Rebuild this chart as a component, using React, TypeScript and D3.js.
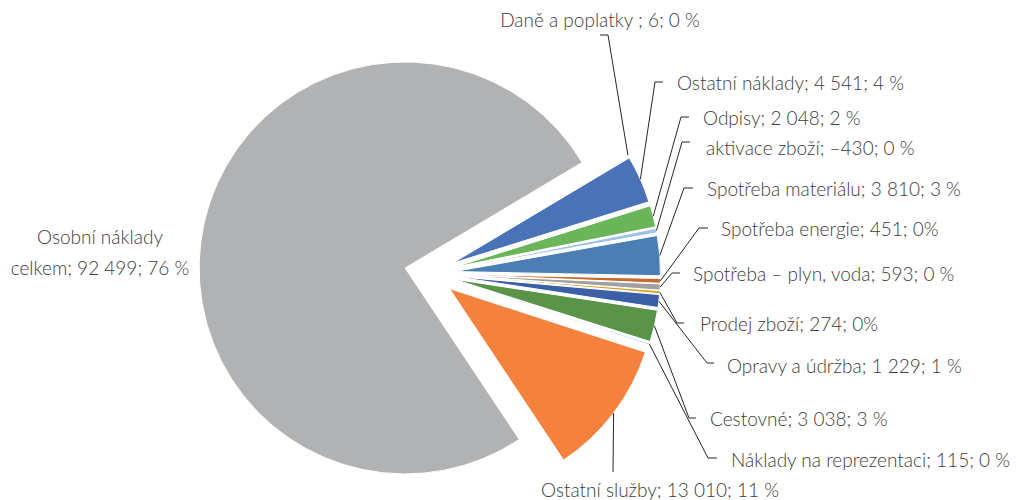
import React, { useEffect, useRef } from "react";
import * as d3 from "d3";

// ---- data ----
const categories = [
  "Daně a poplatky ",
  "Ostatní náklady",
  "Odpisy",
  "aktivace zboží",
  "Spotřeba materiálu",
  "Spotřeba energie",
  "Spotřeba – plyn, voda",
  "Prodej zboží",
  "Opravy a údržba",
  "Cestovné",
  "Náklady na reprezentaci",
  "Ostatní služby",
  "Osobní náklady celkem",
];
const values = [6, 4541, 2048, -430, 3810, 451, 593, 274, 1229, 3038, 115, 13010, 92499];
const valueLabels = ["6", "4 541", "2 048", "–430", "3 810", "451", "593", "274", "1 229", "3 038", "115", "13 010", "92 499"];
const percentLabels = ["0 %", "4 %", "2 %", "0 %", "3 %", "0%", "0 %", "0%", "1 %", "3 %", "0 %", "11 %", "76 %"];
const colors = [
  "#7f7f7f", "#4a72b8", "#6ab45a", "#9dc3e6", "#4a7eb5", "#c8692e",
  "#a0a0a0", "#d6a020", "#3b60a8", "#5a9448", "#5b9bd5", "#f4823c", "#b1b2b4",
];

// ---- layout (label boxes and leader elbows) ----
const labelLayout = [
  { x: 600, y: 20, anchor: "middle", elbow: [608, 35], tail: [600, 35] },
  { x: 677, y: 83, anchor: "start", elbow: [655, 82], tail: [663, 82] },
  { x: 703, y: 118, anchor: "start", elbow: [681, 117], tail: [689, 117] },
  { x: 706, y: 148, anchor: "start", elbow: [682, 142], tail: [690, 142] },
  { x: 707, y: 189, anchor: "start", elbow: [684, 188], tail: [693, 188] },
  { x: 721, y: 229, anchor: "start", elbow: [699, 228], tail: [708, 228] },
  { x: 693, y: 274, anchor: "start", elbow: [672, 273], tail: [680, 273] },
  { x: 700, y: 324, anchor: "start", elbow: [677, 323], tail: [684, 323] },
  { x: 727, y: 366, anchor: "start", elbow: [707, 363], tail: [714, 363] },
  { x: 710, y: 419, anchor: "start", elbow: [689, 418], tail: [696, 418] },
  { x: 731, y: 460, anchor: "start", elbow: [708, 458], tail: [717, 458] },
  { x: 660, y: 490, anchor: "middle", elbow: [613, 472], tail: [613, 472] },
  { x: 100, y: 0, anchor: "middle", elbow: null, tail: null },
];

const W = 1018;
const H = 500;
const CX = 429.5;
const CY = 273.5;
const R = 206;
const EXPLODE = 25;
const START = (59.2 * Math.PI) / 180;
const FONT = "Lato, 'Open Sans', sans-serif";
const TEXT_COLOR = "#3c3c3c";

export default function App() {
  const ref = useRef<SVGSVGElement>(null);

  useEffect(() => {
    const svg = d3.select(ref.current);
    svg.selectAll("*").remove();

    const idx = d3.range(values.length);
    const pie = d3
      .pie<number>()
      .value((i) => Math.abs(values[i]))
      .sort(null)
      .startAngle(START)
      .endAngle(START + 2 * Math.PI);
    const arcs = pie(idx);
    const arc = d3.arc<d3.PieArcDatum<number>>().innerRadius(0).outerRadius(R);

    const g = svg.append("g").attr("transform", `translate(${CX},${CY})`);

    const offset = (a: d3.PieArcDatum<number>, dist: number) => {
      const mid = (a.startAngle + a.endAngle) / 2;
      return [Math.sin(mid) * dist, -Math.cos(mid) * dist];
    };

    g.selectAll("path.slice")
      .data(arcs)
      .join("path")
      .attr("class", "slice")
      .attr("d", arc)
      .attr("fill", (d) => colors[d.data])
      .attr("stroke", "#fff")
      .attr("stroke-width", 1)
      .attr("stroke-linejoin", "round")
      .attr("transform", (d) => {
        const [dx, dy] = offset(d, EXPLODE);
        return `translate(${dx},${dy})`;
      });

    // leader lines
    arcs.forEach((a) => {
      const L = labelLayout[a.data];
      if (!L.elbow) return;
      const mid = (a.startAngle + a.endAngle) / 2;
      const ax = CX + Math.sin(mid) * (R + EXPLODE);
      const ay = CY - Math.cos(mid) * (R + EXPLODE);
      const pts: [number, number][] = [[ax, ay], L.elbow as [number, number], L.tail as [number, number]];
      svg
        .append("path")
        .attr("d", d3.line()(pts))
        .attr("fill", "none")
        .attr("stroke", "#262626")
        .attr("stroke-width", 1);
    });

    // labels
    const fs = 19;
    arcs.forEach((a) => {
      const i = a.data;
      const L = labelLayout[i];
      if (i === values.length - 1) {
        const t = svg
          .append("text")
          .attr("text-anchor", "middle")
          .attr("font-family", FONT)
          .attr("font-weight", 300)
          .attr("font-size", fs)
          .attr("fill", TEXT_COLOR);
        t.append("tspan").attr("x", L.x).attr("y", 237).attr("dy", "0.35em").text("Osobní náklady");
        t.append("tspan")
          .attr("x", L.x)
          .attr("y", 268)
          .attr("dy", "0.35em")
          .text(`celkem; ${valueLabels[i]}; ${percentLabels[i]}`);
        return;
      }
      svg
        .append("text")
        .attr("x", L.x)
        .attr("y", L.y)
        .attr("dy", "0.35em")
        .attr("text-anchor", L.anchor)
        .attr("font-family", FONT)
        .attr("font-weight", 300)
        .attr("font-size", fs)
        .attr("fill", TEXT_COLOR)
        .text(`${categories[i]}; ${valueLabels[i]}; ${percentLabels[i]}`);
    });
  }, []);

  return (
    <svg
      ref={ref}
      width={W}
      height={H}
      style={{ position: "absolute", left: 0, top: 0, background: "#fff" }}
    />
  );
}
